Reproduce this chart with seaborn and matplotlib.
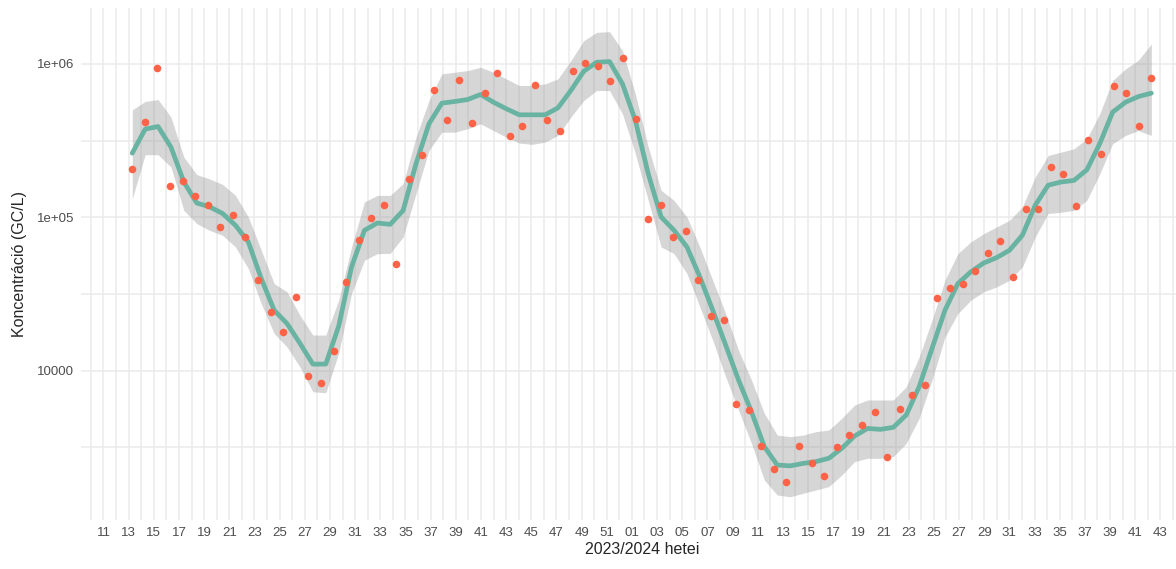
import numpy as np
import pandas as pd
import seaborn as sns
import matplotlib.pyplot as plt
import matplotlib.dates as mdates
from matplotlib.ticker import FixedLocator, NullFormatter

# weekly samples, 2023 w13 -> 2024 w42 (GC/L)
conc = [208e3, 417e3, 942e3, 159e3, 173e3, 138e3, 121e3, 87e3, 103e3, 75e3,
        39e3, 24e3, 17.9e3, 30.3e3, 9.3e3, 8.36e3, 13.4e3, 37.8e3, 71e3, 99e3,
        121e3, 49.4e3, 177e3, 255e3, 678e3, 430e3, 783e3, 415e3, 650e3, 874e3,
        340e3, 393e3, 730e3, 430e3, 366e3, 905e3, 1.01e6, 975e3, 771e3, 1.09e6,
        438e3, 97e3, 121e3, 75e3, 82e3, 39e3, 22.8e3, 21.5e3, 6.04e3, 5.52e3,
        3.25e3, 2.30e3, 1.88e3, 3.25e3, 2.52e3, 2.07e3, 3.18e3, 3.81e3, 4.43e3, 5.41e3,
        2.75e3, 5.6e3, 6.98e3, 8.07e3, 29.9e3, 34.5e3, 37e3, 44.6e3, 58.6e3, 70.2e3,
        40.7e3, 114e3, 114e3, 213e3, 191e3, 119e3, 317e3, 258e3, 716e3, 644e3,
        393e3, 811e3]
dates = pd.date_range("2023-03-29", periods=len(conc), freq="7D")

# smoothed trend (80 evaluation points) and its confidence band
fit = [262e3, 376e3, 391e3, 287e3, 170e3, 124e3, 117e3, 106e3, 88.7e3, 69.1e3,
       39.9e3, 24.8e3, 20.3e3, 15.1e3, 11.05e3, 11.05e3, 19.5e3, 47.5e3, 82.3e3, 91.9e3,
       90.0e3, 111e3, 224e3, 407e3, 555e3, 569e3, 586e3, 632e3, 563e3, 510e3,
       466e3, 466e3, 466e3, 517e3, 671e3, 896e3, 1.025e6, 1.036e6, 741e3, 428e3,
       192e3, 100.5e3, 82.3e3, 64.1e3, 40.9e3, 24.8e3, 14.7e3, 8.70e3, 5.41e3, 3.20e3,
       2.43e3, 2.40e3, 2.49e3, 2.56e3, 2.69e3, 3.12e3, 3.76e3, 4.21e3, 4.15e3, 4.28e3,
       5.15e3, 7.87e3, 14.0e3, 24.8e3, 37.0e3, 44.1e3, 50.4e3, 54.6e3, 61.0e3, 76.4e3,
       120e3, 162e3, 170e3, 174e3, 204e3, 302e3, 485e3, 563e3, 613e3, 645e3]
fit_hi = [502e3, 569e3, 586e3, 450e3, 247e3, 190e3, 178e3, 164e3, 139e3, 100.5e3,
          61.0e3, 37.0e3, 32.7e3, 23.0e3, 17.1e3, 17.1e3, 28.8e3, 64.1e3, 126e3, 139e3,
          139e3, 166e3, 333e3, 577e3, 861e3, 883e3, 905e3, 951e3, 883e3, 799e3,
          723e3, 723e3, 741e3, 799e3, 1.051e6, 1.418e6, 1.607e6, 1.623e6, 1.221e6, 638e3,
          287e3, 150e3, 129e3, 100.5e3, 64.1e3, 38.9e3, 23.6e3, 13.6e3, 8.70e3, 5.28e3,
          3.81e3, 3.72e3, 3.81e3, 4.01e3, 4.11e3, 4.90e3, 5.98e3, 6.45e3, 6.45e3, 6.45e3,
          7.87e3, 12.3e3, 21.4e3, 38.9e3, 58.0e3, 69.1e3, 78.3e3, 86.5e3, 95.6e3, 117e3,
          183e3, 253e3, 266e3, 280e3, 325e3, 473e3, 779e3, 928e3, 1.06e6, 1.35e6]
fit_lo = [132e3, 256e3, 256e3, 213e3, 111e3, 91.0e3, 82.3e3, 76.4e3, 64.1e3, 46.3e3,
          27.4e3, 17.5e3, 14.3e3, 10.6e3, 7.30e3, 7.19e3, 13.0e3, 31.9e3, 52.5e3, 58.0e3,
          58.3e3, 74.5e3, 143e3, 273e3, 359e3, 359e3, 378e3, 407e3, 368e3, 333e3,
          305e3, 299e3, 309e3, 342e3, 450e3, 577e3, 671e3, 671e3, 473e3, 260e3,
          129e3, 64.1e3, 58.0e3, 43.0e3, 26.1e3, 15.8e3, 9.14e3, 5.55e3, 3.37e3, 1.94e3,
          1.55e3, 1.51e3, 1.59e3, 1.67e3, 1.76e3, 2.09e3, 2.56e3, 2.69e3, 2.69e3, 2.76e3,
          3.37e3, 4.90e3, 8.70e3, 16.6e3, 23.6e3, 28.8e3, 32.7e3, 35.2e3, 38.9e3, 47.5e3,
          74.5e3, 106e3, 108e3, 111e3, 129e3, 192e3, 302e3, 342e3, 368e3, 342e3]
fit_x = pd.to_datetime(np.linspace(dates[0].value, dates[-1].value, len(fit)))

y_ticks = [1e4, 1e5, 1e6]
y_labels = ["10000", "1e+05", "1e+06"]

sns.set_style("white")
plt.rcParams["font.family"] = ["Liberation Sans", "DejaVu Sans"]

fig = plt.figure(figsize=(11.76, 5.69), dpi=100)
# panel runs past the right edge, like the cropped original
ax = fig.add_axes([81.3 / 1176, 49 / 569, 1121 / 1176, 511.6 / 569])

ax.fill_between(fit_x, fit_lo, fit_hi, color="#999999", alpha=0.4, linewidth=0, zorder=2)
sns.lineplot(x=fit_x, y=fit, color="#69b3a2", linewidth=3.4, ax=ax, zorder=3)
sns.scatterplot(x=dates, y=conc, color="#FF6347", s=30, linewidth=0, ax=ax, zorder=4)

ax.set_yscale("log")
lo_l, hi_l = np.log10(min(fit_lo)), np.log10(max(fit_hi))
pad = (hi_l - lo_l) * 0.05
ax.set_ylim(10 ** (lo_l - pad), 10 ** (hi_l + pad))
ax.yaxis.set_major_locator(FixedLocator(y_ticks))
ax.set_yticklabels(y_labels)
ax.yaxis.set_minor_locator(FixedLocator([10 ** 3.5, 10 ** 4.5, 10 ** 5.5]))
ax.yaxis.set_minor_formatter(NullFormatter())

xpad = (dates[-1] - dates[0]) * 0.05
ax.set_xlim(dates[0] - xpad, dates[-1] + xpad)
ax.xaxis.set_major_locator(FixedLocator(mdates.date2num(pd.date_range("2023-03-13", "2024-10-21", freq="14D"))))
ax.xaxis.set_minor_locator(FixedLocator(mdates.date2num(pd.date_range("2023-03-06", "2024-12-30", freq="7D"))))
ax.xaxis.set_major_formatter(mdates.DateFormatter("%V"))

ax.grid(True, which="both", color="#EBEBEB", linewidth=1.1)
ax.set_axisbelow(True)
for s in ax.spines.values():
    s.set_visible(False)
ax.tick_params(which="both", length=0, pad=5, labelsize=9.5, labelcolor="#4D4D4D")

ax.set_xlabel("2023/2024 hetei", fontsize=11.5, labelpad=2)
ax.set_ylabel("Koncentráció (GC/L)", fontsize=11.5, labelpad=7)

fig.savefig("out.png", dpi=100)
